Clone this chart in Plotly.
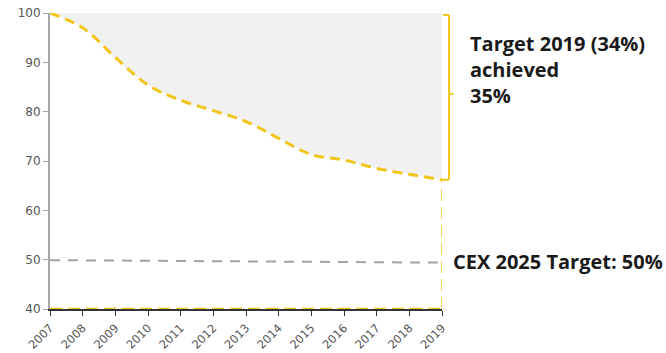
import plotly.graph_objects as go

years = list(range(2007, 2020))
index_values = [100, 97, 91, 85.4, 82.3, 80.2, 78.0, 74.6, 71.3, 70.2, 68.5, 67.3, 66.2]
baseline = [100] * len(years)
cex_target = [49.9, 49.85, 49.8, 49.8, 49.75, 49.7, 49.7, 49.65, 49.6, 49.55, 49.5, 49.45, 49.4]
floor_line = [40] * len(years)
y_ticks = [40, 50, 60, 70, 80, 90, 100]

yellow = "#F2C51B"
bold_font = dict(family="Open Sans", size=20, color="#1a1a1a")
y_tick_font = dict(family="DejaVu Sans", size=12, color="#555555")
x_tick_font = dict(family="DejaVu Sans", size=11.5, color="#555555")

fig = go.Figure()

# grey band between the 100 baseline and the index curve
fig.add_trace(go.Scatter(x=years, y=baseline, mode="lines", line=dict(width=0),
                         hoverinfo="skip", showlegend=False))
fig.add_trace(go.Scatter(x=years, y=index_values, mode="lines", fill="tonexty",
                         fillcolor="#f1f1f2",
                         line=dict(color=yellow, width=3, dash="10px,6px", shape="spline"),
                         showlegend=False))

# 2025 target reference
fig.add_trace(go.Scatter(x=years, y=cex_target, mode="lines",
                         line=dict(color="#a3a3a3", width=2, dash="10px,8px"),
                         showlegend=False))

# dashed line along the floor
fig.add_trace(go.Scatter(x=years, y=floor_line, mode="lines",
                         line=dict(color=yellow, width=2.5, dash="12px,6px"),
                         showlegend=False, cliponaxis=False))

last_year = years[-1]
last_val = index_values[-1]

shapes = [
    # drop from the final value to the floor
    dict(type="line", xref="x", yref="y", x0=last_year, x1=last_year, y0=40, y1=last_val,
         line=dict(color=yellow, width=1.5, dash="12px,6px")),
    # bracket spanning the reduction achieved
    dict(type="line", xref="paper", yref="y", x0=1.018, x1=1.018, y0=last_val, y1=99.6,
         line=dict(color=yellow, width=2)),
    dict(type="line", xref="paper", yref="y", x0=1.003, x1=1.018, y0=99.6, y1=99.6,
         line=dict(color=yellow, width=2)),
    dict(type="line", xref="paper", yref="y", x0=1.0, x1=1.018, y0=last_val, y1=last_val,
         line=dict(color=yellow, width=2)),
    dict(type="line", xref="paper", yref="y", x0=1.018, x1=1.03,
         y0=(100 + last_val) / 2 + 0.5, y1=(100 + last_val) / 2 + 0.5,
         line=dict(color=yellow, width=1.5)),
]

annotations = [
    dict(xref="paper", yref="y", x=1.066, y=88.5, xanchor="left", yanchor="middle",
         text="<b>Target 2019 (34%)<br>achieved<br>35%</b>", showarrow=False,
         align="left", font=bold_font),
    dict(xref="paper", yref="y", x=1.022, y=49.6, xanchor="left", yanchor="middle",
         text="<b>CEX 2025 Target: 50%</b>", showarrow=False, font=bold_font),
]

fig.update_layout(
    width=666, height=353,
    margin=dict(l=50, r=224, t=13, b=44),
    paper_bgcolor="white", plot_bgcolor="white",
    shapes=shapes, annotations=annotations,
    xaxis=dict(range=[2007, 2019], tickmode="array", tickvals=years,
               ticktext=[str(y) for y in years], tickangle=-45,
               showgrid=False, zeroline=False, automargin=False,
               showline=True, linecolor="#333333", linewidth=1.5,
               ticks="outside", ticklen=5, tickcolor="#333333",
               ticklabelstandoff=1, tickfont=x_tick_font),
    yaxis=dict(range=[40, 100], tickmode="array", tickvals=y_ticks,
               showgrid=False, zeroline=False, automargin=False,
               showline=True, linecolor="#a6a6a6", linewidth=2,
               ticks="outside", ticklen=5, tickcolor="#a6a6a6",
               tickfont=y_tick_font),
)

fig.write_html("out.html")
